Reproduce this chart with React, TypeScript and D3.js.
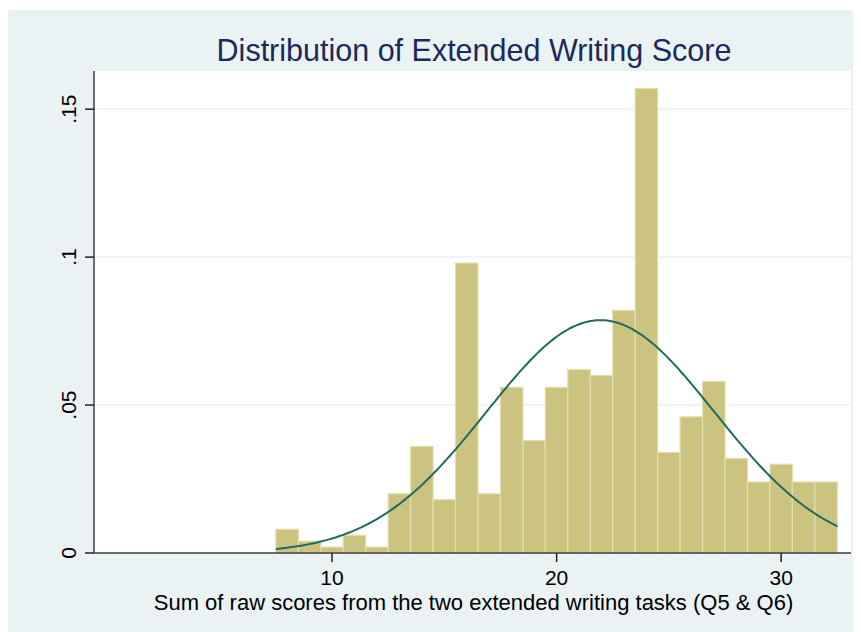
import React from "react";
import * as d3 from "d3";

// histogram bins (centre of each 1-point bin) and their densities
const binCentres = [8, 9, 10, 11, 12, 13, 14, 15, 16, 17, 18, 19, 20, 21, 22, 23, 24, 25, 26, 27, 28, 29, 30, 31, 32];
const densities = [
  0.008, 0.004, 0.002, 0.006, 0.002, 0.02, 0.036, 0.018, 0.098, 0.02, 0.056, 0.038, 0.056,
  0.062, 0.06, 0.082, 0.157, 0.034, 0.046, 0.058, 0.032, 0.024, 0.03, 0.024, 0.024,
];
const binWidth = 1.0025;

// fitted normal overlay
const normalMean = 21.95;
const normalSd = 5.07;

const xTicks = [10, 20, 30];
const yTicks = [0, 0.05, 0.1, 0.15];
const yTickLabels = ["0", ".05", ".1", ".15"];

const W = 853;
const H = 624;
const plot = { left: 86, top: 63, right: 843, bottom: 545 };

export default function App() {
  const x = d3.scaleLinear().domain([-0.6, 33.11]).range([plot.left, plot.right]);
  const y = d3.scaleLinear().domain([0, 0.1629]).range([plot.bottom, plot.top]);

  const bins = binCentres.map((c, i) => ({ x0: c - binWidth / 2, x1: c + binWidth / 2, v: densities[i] }));

  const lo = bins[0].x0;
  const hi = bins[bins.length - 1].x1;
  const curvePts = d3.range(0, 201).map((i) => {
    const v = lo + ((hi - lo) * i) / 200;
    const z = (v - normalMean) / normalSd;
    return [v, Math.exp(-0.5 * z * z) / (normalSd * Math.sqrt(2 * Math.PI))];
  });
  const line = d3
    .line<number[]>()
    .x((d) => x(d[0]))
    .y((d) => y(d[1]));

  const font = "'Liberation Sans', Arial, sans-serif";

  return (
    <svg width={W} height={H} style={{ display: "block" }} fontFamily={font}>
      <rect x={0} y={2} width={W} height={H - 2} fill="#EAF2F3" />
      <rect x={plot.left} y={plot.top} width={plot.right - plot.left} height={plot.bottom - plot.top} fill="#ffffff" />

      {/* gridlines */}
      {yTicks.slice(1).map((t) => (
        <line key={t} x1={plot.left} x2={plot.right} y1={y(t)} y2={y(t)} stroke="#EAF2F3" strokeWidth={1.5} />
      ))}

      {/* bars */}
      {bins.map((b, i) => (
        <rect
          key={i}
          x={x(b.x0)}
          y={y(b.v)}
          width={x(b.x1) - x(b.x0)}
          height={y(0) - y(b.v)}
          fill="#CBC37F"
          stroke="#E3DEAE"
          strokeWidth={1.2}
        />
      ))}

      {/* normal density */}
      <path d={line(curvePts) || ""} fill="none" stroke="#23695F" strokeWidth={2} />

      {/* axes */}
      <line x1={plot.left} x2={plot.left} y1={plot.top} y2={plot.bottom} stroke="#6e6e6e" strokeWidth={2} />
      <line x1={plot.left} x2={plot.right} y1={plot.bottom} y2={plot.bottom} stroke="#3c3c3c" strokeWidth={1.5} />

      {yTicks.map((t, i) => (
        <g key={t}>
          <line x1={plot.left - 9} x2={plot.left} y1={y(t)} y2={y(t)} stroke="#222" strokeWidth={1.5} />
          <text
            transform={`translate(68,${y(t)}) rotate(-90)`}
            textAnchor="middle"
            fontSize={21}
            fill="#000"
          >
            {yTickLabels[i]}
          </text>
        </g>
      ))}

      {xTicks.map((t) => (
        <g key={t}>
          <line x1={x(t)} x2={x(t)} y1={plot.bottom} y2={plot.bottom + 9} stroke="#222" strokeWidth={1.5} />
          <text x={x(t)} y={577} textAnchor="middle" fontSize={21} fill="#000">
            {t}
          </text>
        </g>
      ))}

      <text x={466} y={53} textAnchor="middle" fontSize={30.5} fill="#1B2A5A">
        Distribution of Extended Writing Score
      </text>
      <text x={465.5} y={602} textAnchor="middle" fontSize={22} fill="#000">
        Sum of raw scores from the two extended writing tasks (Q5 &amp; Q6)
      </text>
    </svg>
  );
}
